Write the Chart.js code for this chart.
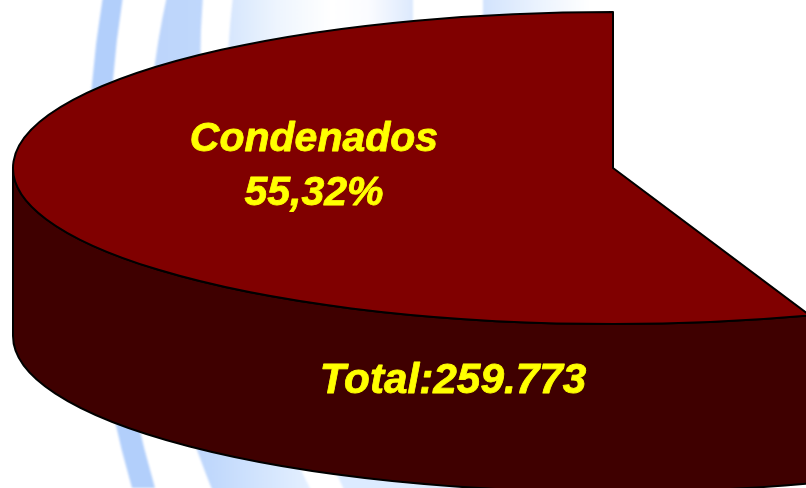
<!DOCTYPE html>
<html>
<head>
<meta charset="utf-8">
<style>html,body{margin:0;padding:0;background:#fff;overflow:hidden}canvas{display:block}</style>
<script src="https://cdn.jsdelivr.net/npm/chart.js@4"></script>
</head>
<body>
<canvas id="c" width="806" height="488"></canvas>
<script>
const categories = ['Condenados', 'Outros'];
const shares = [55.32, 44.68];
const sliceLabel = ['Condenados', '55,32%'];
const totalLabel = 'Total:259.773';

const TOP_COLOR = '#800000', WALL_COLOR = '#3f0000', TEXT_COLOR = '#ffff00';
const VIEW = { cx: 613, cy: 168, rx: 600, ry: 156, depth: 168 };
const FONT = 'italic bold 41px "Liberation Sans", Arial, sans-serif';
const FONT_TOTAL = 'italic bold 42.3px "Liberation Sans", Arial, sans-serif';

function band(ctx, l, r, fill) {
  ctx.beginPath();
  ctx.moveTo(l[0], l[1]);
  ctx.quadraticCurveTo(l[2], l[3], l[4], l[5]);
  ctx.lineTo(r[4], r[5]);
  ctx.quadraticCurveTo(r[2], r[3], r[0], r[1]);
  ctx.closePath();
  ctx.fillStyle = fill;
  ctx.fill();
}
function hGrad(ctx, x0, x1, stops) {
  const g = ctx.createLinearGradient(x0, 0, x1, 0);
  stops.forEach(s => g.addColorStop(s[0], s[1]));
  return g;
}
function heavyText(ctx, text, x, y) {
  ctx.strokeText(text, x, y);
  ctx.fillText(text, x, y);
}

const scene = {
  id: 'scene',
  beforeDraw(chart) {
    const ctx = chart.ctx;
    ctx.save();
    ctx.fillStyle = '#fff';
    ctx.fillRect(0, 0, chart.width, chart.height);
    ctx.filter = 'blur(1px)';
    band(ctx, [103, -4, 62, 244, 132, 488], [123, -4, 84, 244, 155, 488], '#b2cffb');
    band(ctx, [167, -4, 112, 244, 213, 492], [203, -4, 183, 244, 312, 492],
      hGrad(ctx, 155, 315, [[0, '#bdd5fb'], [0.35, '#c0d8fc'], [1, '#e6f1ff']]));
    band(ctx, [233, -4, 205, 244, 300, 300], [413, -4, 413, 150, 413, 300],
      hGrad(ctx, 233, 413, [[0, '#d8e7fd'], [0.25, '#eef5fe'], [0.55, '#ffffff'], [0.75, '#fbfcff'], [1, '#dce9fd']]));
    band(ctx, [320, 430, 330, 460, 345, 492], [560, 430, 560, 460, 560, 492], '#dcebff');
    band(ctx, [483, -4, 483, 10, 483, 30], [590, -4, 590, 10, 590, 30],
      hGrad(ctx, 483, 590, [[0, '#d2e3fd'], [0.5, '#eaf2fe'], [1, '#ffffff']]));
    ctx.restore();
  },
  beforeDatasetsDraw(chart) {
    const ctx = chart.ctx, a = chart.getDatasetMeta(0).data[0];
    const v = VIEW;
    ctx.save();
    ctx.beginPath();
    ctx.ellipse(v.cx, v.cy, v.rx, v.ry, 0, a.startAngle, -Math.PI, false);
    ctx.lineTo(v.cx - v.rx, v.cy + v.depth);
    ctx.ellipse(v.cx, v.cy + v.depth, v.rx, v.ry, 0, -Math.PI, a.startAngle, true);
    ctx.closePath();
    ctx.fillStyle = WALL_COLOR;
    ctx.fill();
    ctx.strokeStyle = '#000';
    ctx.lineWidth = 2;
    ctx.stroke();
    ctx.restore();
  },
  beforeDatasetDraw(chart) {
    const ctx = chart.ctx, a = chart.getDatasetMeta(0).data[0], v = VIEW;
    ctx.save();
    ctx.translate(v.cx, v.cy);
    ctx.scale(v.rx / a.outerRadius, v.ry / a.outerRadius);
    ctx.translate(-a.x, -a.y);
  },
  afterDatasetDraw(chart) {
    chart.ctx.restore();
  },
  afterDatasetsDraw(chart) {
    const ctx = chart.ctx, a = chart.getDatasetMeta(0).data[0], v = VIEW;
    ctx.save();
    ctx.beginPath();
    ctx.ellipse(v.cx, v.cy, v.rx, v.ry, 0, a.startAngle, a.endAngle, false);
    ctx.lineTo(v.cx, v.cy);
    ctx.closePath();
    ctx.strokeStyle = '#000';
    ctx.lineWidth = 2;
    ctx.lineJoin = 'round';
    ctx.stroke();
    ctx.fillStyle = TEXT_COLOR;
    ctx.strokeStyle = TEXT_COLOR;
    ctx.lineWidth = 0.8;
    ctx.textAlign = 'center';
    ctx.textBaseline = 'alphabetic';
    ctx.font = FONT;
    heavyText(ctx, sliceLabel[0], 314, 151);
    heavyText(ctx, sliceLabel[1], 314, 205);
    ctx.font = FONT_TOTAL;
    heavyText(ctx, totalLabel, 453, 393);
    ctx.restore();
  }
};

new Chart(document.getElementById('c'), {
  type: 'pie',
  data: {
    labels: categories,
    datasets: [{
      data: shares,
      backgroundColor: [TOP_COLOR, 'rgba(0,0,0,0)'],
      borderWidth: 0,
      clip: false
    }]
  },
  options: {
    responsive: false,
    animation: false,
    rotation: -360 * shares[0] / (shares[0] + shares[1]),
    layout: { padding: 0 },
    plugins: { legend: { display: false }, tooltip: { enabled: false }, title: { display: false } }
  },
  plugins: [scene]
});
</script>
</body>
</html>
